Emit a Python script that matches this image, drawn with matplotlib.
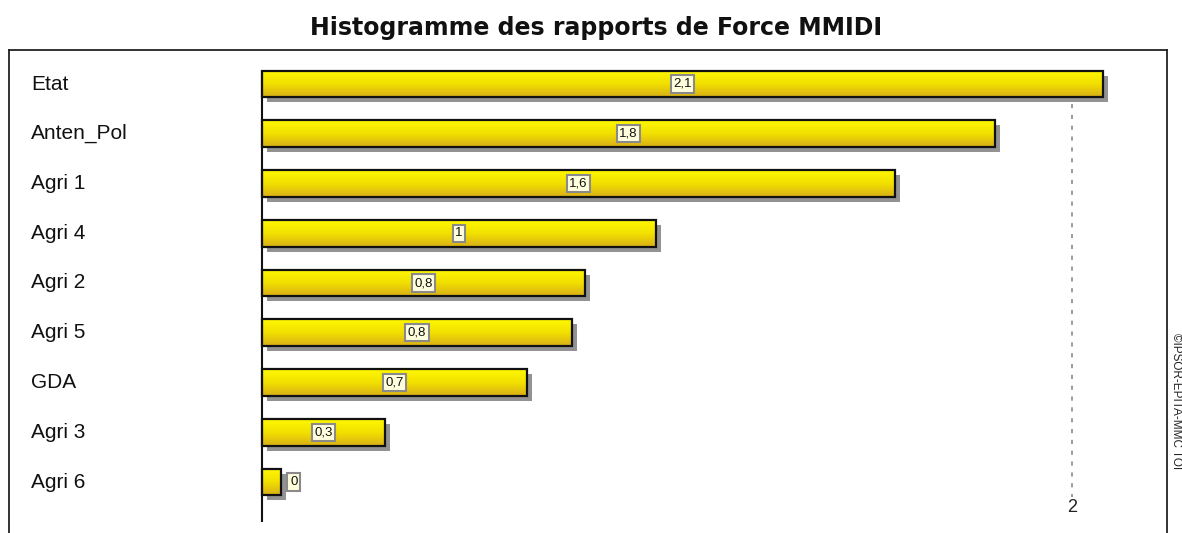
import numpy as np
import matplotlib
matplotlib.use("Agg")
import matplotlib.pyplot as plt
from matplotlib import transforms
from matplotlib.colors import LinearSegmentedColormap

categories = ["Etat", "Anten_Pol", "Agri 1", "Agri 4", "Agri 2", "Agri 5", "GDA", "Agri 3", "Agri 6"]
values = [2.077, 1.81, 1.563, 0.973, 0.797, 0.765, 0.654, 0.304, 0.047]
title = "Histogramme des rapports de Force MMIDI"
xtick_vals = [2]
credit = "©IPSOR-EPITA-MMC TOI"

W, H = 1182, 533
fig = plt.figure(figsize=(W / 100, H / 100), dpi=100)
plt.rcParams['font.family'] = ['Liberation Sans', 'DejaVu Sans']

left_px, right_px, top_px = 9, 1167, 50
ax = fig.add_axes([left_px / W, 0, (right_px - left_px) / W, (H - top_px) / H])

px_per_unit = 405.0
x0_px = 262
xlim = (-(x0_px - left_px) / px_per_unit, (right_px - x0_px) / px_per_unit)
row_px = 49.75
first_px = 84
ylim = ((H - first_px) / row_px, -(first_px - top_px) / row_px)

def py(p):
    return (p - first_px) / row_px

for s in ['left', 'right', 'top']:
    ax.spines[s].set_linewidth(1.3)
    ax.spines[s].set_color('#222222')
ax.spines['bottom'].set_visible(False)
ax.set_xticks([])
ax.set_yticks([])

ypos = np.arange(len(categories))
bh = 0.54
dx = 5 / px_per_unit
dy = 5 / row_px

# gridline at 2
for xv in xtick_vals:
    ax.plot([xv, xv], [py(104), py(497)], color='#8a8a8a', lw=1.2, ls=(0, (2.5, 4)), zorder=1)
    ax.text(xv, py(508), f"{xv:g}", ha='center', va='center', fontsize=13, color='#222222')

# shadows
ax.barh(ypos + dy, values, height=bh, left=dx, color='#777777', edgecolor='none', zorder=2, alpha=0.8)

grad = np.linspace(0, 1, 64).reshape(-1, 1)
cmap = LinearSegmentedColormap.from_list('gold', ['#fff800', '#f2e000', '#d9b018'])

bars = ax.barh(ypos, values, height=bh, left=0, color='none', edgecolor='#111111', linewidth=1.6, zorder=4)
for b, y, v in zip(bars, ypos, values):
    im = ax.imshow(grad, extent=(0, v, y + bh / 2, y - bh / 2), cmap=cmap, aspect='auto',
                   origin='upper', zorder=3, interpolation='bilinear')
    im.set_clip_path(b)

ax.set_xlim(*xlim)
ax.set_ylim(*ylim)

# value labels
for y, v in zip(ypos, values):
    lab = f"{round(v, 1):g}".replace('.', ',')
    if v * px_per_unit < 30:
        xl, ha = v + 9 / px_per_unit, 'left'
    else:
        xl, ha = v / 2, 'center'
    ax.text(xl, y, lab, ha=ha, va='center', fontsize=9.5, color='#111111', zorder=6,
            bbox=dict(boxstyle='square,pad=0.2', fc='#ffffdd', ec='#8a8a8a', lw=1.5))

# category labels
trans = transforms.blended_transform_factory(fig.transFigure, ax.transData)
for y, c in zip(ypos, categories):
    ax.text(31 / W, y, c, transform=trans, ha='left', va='center', fontsize=15, color='#111111')

# y axis line
ax.plot([0, 0], [py(70), py(522)], color='#111111', lw=1.5, zorder=5, solid_capstyle='butt')

fig.text(596 / W, 1 - 28 / H, title, ha='center', va='center', fontsize=17, fontweight='bold',
         family=['DejaVu Sans'], color='#111111')
fig.text(1176 / W, 1 - 333 / H, credit, ha='center', va='top', rotation=270, fontsize=8.5, color='#222222')

fig.savefig('out.png', dpi=100)
